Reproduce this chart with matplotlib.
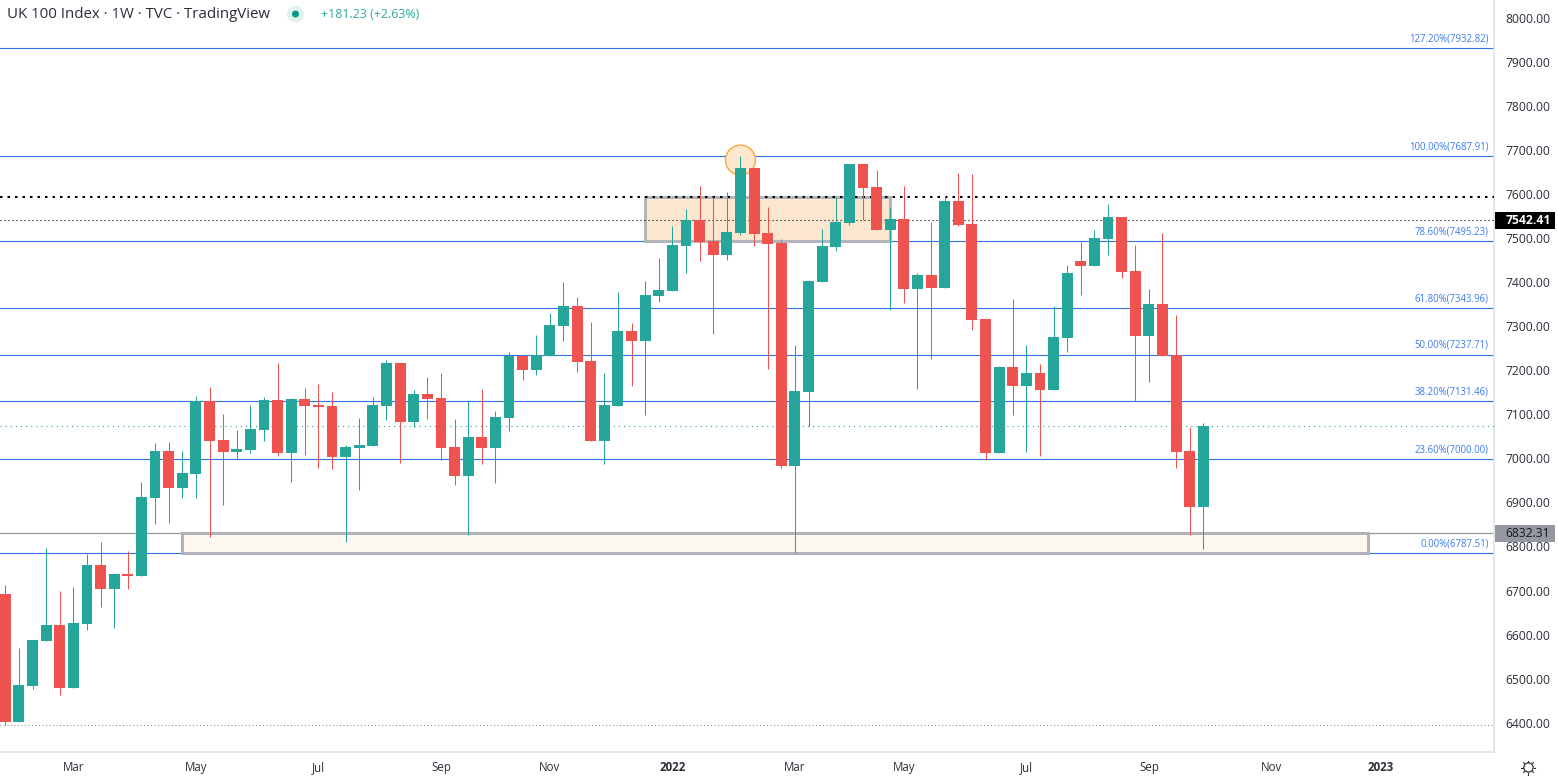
import matplotlib
matplotlib.use("Agg")
import matplotlib.pyplot as plt
from matplotlib.patches import Rectangle, Ellipse, Circle
from matplotlib.transforms import ScaledTranslation

plt.rcParams["font.family"] = ["Open Sans", "DejaVu Sans"]

W, H = 1558, 776
PLOT_W, PLOT_H = 1494, 752

# weekly candles
opens = [6694, 6405, 6486, 6588, 6624, 6481, 6626, 6760, 6706, 6740,
         6735, 6912, 7019, 6935, 6967, 7132, 7044, 7017, 7021, 7067,
         7135, 7014, 7137, 7124, 7121, 7005, 7026, 7030, 7121, 7218,
         7085, 7148, 7139, 7028, 6962, 7050, 7026, 7094, 7234, 7203,
         7234, 7302, 7348, 7223, 7042, 7121, 7291, 7269, 7370, 7382,
         7484, 7543, 7495, 7464, 7513, 7661, 7513, 7491, 6985, 7153,
         7402, 7482, 7536, 7670, 7618, 7520, 7545, 7387, 7418, 7389,
         7586, 7534, 7318, 7014, 7210, 7166, 7196, 7157, 7275, 7450,
         7439, 7500, 7550, 7427, 7280, 7352, 7237, 7019, 6892]
highs = [6715, 6572, 6590, 6799, 6701, 6710, 6785, 6812, 6742, 6792,
         6949, 7037, 7039, 7019, 7144, 7164, 7103, 7067, 7124, 7141,
         7218, 7139, 7162, 7171, 7153, 7032, 7094, 7141, 7225, 7218,
         7157, 7187, 7196, 7091, 7132, 7159, 7110, 7244, 7234, 7282,
         7332, 7402, 7368, 7311, 7196, 7380, 7309, 7404, 7457, 7529,
         7568, 7620, 7595, 7606, 7688, 7661, 7572, 7500, 7259, 7407,
         7522, 7595, 7670, 7670, 7656, 7570, 7620, 7423, 7539, 7598,
         7650, 7648, 7318, 7212, 7364, 7259, 7216, 7348, 7441, 7493,
         7520, 7579, 7550, 7486, 7387, 7513, 7327, 7073, 7082]
lows = [6397, 6405, 6479, 6588, 6465, 6481, 6613, 6665, 6617, 6706,
        6735, 6853, 6856, 6912, 6912, 6824, 6896, 7001, 7014, 7042,
        7008, 6949, 7010, 6980, 6978, 6812, 6930, 7030, 7089, 6991,
        7073, 7091, 6998, 6942, 6828, 6989, 6946, 7064, 7180, 7191,
        7234, 7269, 7198, 7042, 6989, 7121, 7166, 7100, 7357, 7382,
        7423, 7450, 7284, 7452, 7509, 7484, 7205, 6980, 6787.5, 7076,
        7402, 7473, 7532, 7543, 7520, 7339, 7355, 7159, 7228, 7389,
        7529, 7293, 6998, 7014, 7100, 7017, 7008, 7157, 7244, 7373,
        7439, 7464, 7411, 7132, 7175, 7234, 6980, 6828, 6797]
closes = [6405, 6488, 6590, 6624, 6481, 6629, 6760, 6706, 6740, 6735,
          6915, 7019, 6935, 6969, 7132, 7042, 7017, 7024, 7069, 7135,
          7014, 7137, 7121, 7119, 7005, 7028, 7032, 7124, 7218, 7085,
          7148, 7137, 7026, 6962, 7050, 7026, 7096, 7234, 7203, 7237,
          7305, 7348, 7221, 7042, 7124, 7291, 7269, 7373, 7384, 7486,
          7543, 7493, 7464, 7516, 7661, 7511, 7488, 6985, 7155, 7404,
          7484, 7539, 7670, 7616, 7520, 7545, 7387, 7418, 7389, 7586,
          7532, 7316, 7014, 7210, 7166, 7196, 7157, 7278, 7423, 7439,
          7502, 7550, 7425, 7280, 7352, 7234, 7017, 6892, 7075]

# fib levels
fib_levels = [7932.82, 7687.91, 7495.23, 7343.96, 7237.71, 7131.46, 7000.00, 6787.51]
fib_pcts = ["127.20%", "100.00%", "78.60%", "61.80%", "50.00%", "38.20%", "23.60%", "0.00%"]

y_ticks = [8000, 7900, 7800, 7700, 7600, 7500, 7400, 7300, 7200, 7100, 7000,
           6900, 6800, 6700, 6600, 6500, 6400]
x_tick_pos = [5, 14, 23, 32, 40, 49, 58, 66, 75, 84, 93, 101]
x_tick_labels = ["Mar", "May", "Jul", "Sep", "Nov", "2022", "Mar", "May", "Jul", "Sep", "Nov", "2023"]

GREEN = "#26a69a"
RED = "#ef5350"
BLUE = "#2f72e0"
LABEL_BLUE = "#3b7cf0"
AXIS = "#e0e3eb"
TEXT = "#2a2e39"

fig = plt.figure(figsize=(W / 100, H / 100), dpi=100)
ax = fig.add_axes([0, 1 - PLOT_H / H, PLOT_W / W, PLOT_H / H])
ax.set_xlim(-0.389, 109.35)
ax.set_ylim(6335.9, 8042.3)

# levels under the candles
for lvl, pct in zip(fib_levels, fib_pcts):
    ax.axhline(lvl, color=BLUE, lw=0.8, zorder=1)
    ax.annotate(f"{pct}({lvl:.2f})", xy=(1, lvl), xycoords=ax.get_yaxis_transform(),
                xytext=(-3.8, 6.6), textcoords="offset points", ha="right", va="center",
                fontsize=6.9, color=LABEL_BLUE)
ax.axhline(6832.31, color="#9598a1", lw=0.9, zorder=1)
ax.axhline(7595, color="black", lw=1.5, ls=(0, (1.2, 2.4)), zorder=3)
ax.axhline(7542.41, color="black", lw=0.8, ls=(0, (1, 2.6)), zorder=3)
ax.axhline(7075, color=GREEN, lw=0.8, ls=(0, (1, 3.6)), zorder=3)
ax.axhline(6397, color="#787b86", lw=0.7, ls=(0, (1, 2.6)), zorder=1)

# support / resistance boxes
ax.add_patch(Rectangle((13, 6787.51), 87.1, 44.8, fc="#fdf8f2", ec="#afb1b9", lw=2.1, zorder=2))
ax.add_patch(Rectangle((47, 7495.23), 18, 99.77, fc="#fde6cf", ec="#b2b4bc", lw=2.1, zorder=2))
ax.add_patch(Ellipse((54, 7679), 2.2, 68, fc="#fde8cf", ec="#f7a93b", lw=1, zorder=3))

# candles
for i, (o, h, l, c) in enumerate(zip(opens, highs, lows, closes)):
    col = GREEN if c >= o else RED
    ax.vlines(i, l, h, color=col, lw=0.75, zorder=4)
    ax.bar(i, abs(c - o), bottom=min(o, c), width=0.8, color=col, lw=0, zorder=5)

ax.spines[["left", "top"]].set_visible(False)
ax.spines[["right", "bottom"]].set_color(AXIS)
ax.spines[["right", "bottom"]].set_linewidth(1.2)

ax.yaxis.tick_right()
ax.set_yticks(y_ticks, [f"{v:.2f}" for v in y_ticks])
ax.tick_params(axis="y", length=0, pad=8.2, labelsize=8.7, labelcolor=TEXT)
ax.set_xticks(x_tick_pos, x_tick_labels)
ax.tick_params(axis="x", length=0, pad=6.5, labelsize=8.3, labelcolor=TEXT)
for t in ax.get_xticklabels():
    if t.get_text() in ("2022", "2023"):
        t.set_fontweight("bold")
# tick labels sit about a pixel higher in the original
for t in ax.get_yticklabels():
    t.set_transform(t.get_transform() + ScaledTranslation(0, 1 / 100, fig.dpi_scale_trans))

# price tags on the axis
tag_tf = ax.get_yaxis_transform()
for price, bg, fg, weight in [(7542.41, "#000000", "white", "bold"), (6832.31, "#9598a1", "#131722", "normal")]:
    ax.add_patch(Rectangle((1.001, price - 19), 0.0395, 38, transform=tag_tf, fc=bg, ec="none",
                           clip_on=False, zorder=6))
    ax.text(1.0075, price, f"{price:.2f}", transform=tag_tf, ha="left", va="center",
            fontsize=8.7, color=fg, fontweight=weight, zorder=7)

# header and corner icon, placed in pixels
over = fig.add_axes([0, 0, 1, 1])
over.set_xlim(0, W)
over.set_ylim(H, 0)
over.axis("off")
over.patch.set_alpha(0)
over.text(7, 14.5, "UK 100 Index · 1W · TVC · TradingView", fontsize=10.8, color=TEXT, va="center")
over.add_patch(Circle((295.5, 14), 8.5, fc="#dff2ee", ec="none"))
over.add_patch(Circle((295.5, 14), 3.5, fc="#089981", ec="none"))
over.text(321, 15, "+181.23 (+2.63%)", fontsize=8.9, color="#2fab9b", va="center")
over.add_patch(Circle((1528.5, 767.5), 4.6, fc="none", ec="#333333", lw=0.9))
for dx, dy in [(0, -7), (0, 7), (-7, 0), (7, 0), (-5, -5), (5, -5), (-5, 5), (5, 5)]:
    over.plot([1528.5 + dx * 0.8, 1528.5 + dx], [767.5 + dy * 0.8, 767.5 + dy], color="#333333", lw=0.8)

fig.savefig("out.png", dpi=100)
plt.close(fig)
